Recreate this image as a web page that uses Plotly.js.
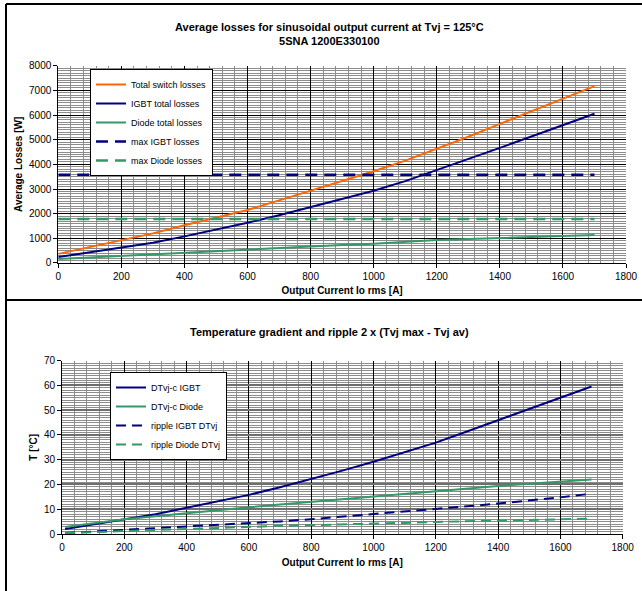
<!DOCTYPE html>
<html>
<head>
<meta charset="utf-8">
<script src="https://cdn.plot.ly/plotly-3.0.1.min.js"></script>
<style>html,body{margin:0;padding:0;background:#fff;}#chart{width:642px;height:591px;}</style>
</head>
<body>
<div id="chart"></div>
<script>
// ---- Top chart: average losses ----
const currentTop = [0,100,200,300,400,500,600,700,800,900,1000,1100,1200,1300,1400,1500,1600,1700];
const totalSwitchLosses = [370,640,905,1200,1530,1830,2150,2540,2940,3310,3720,4150,4620,5120,5640,6160,6680,7170];
const igbtTotalLosses = [240,430,600,820,1080,1340,1630,1940,2280,2600,2930,3320,3760,4220,4670,5130,5600,6050];
const diodeTotalLosses = [160,225,285,360,435,500,565,620,680,730,785,860,930,975,1015,1055,1095,1135];
const maxIgbtLosses = 3580;
const maxDiodeLosses = 1780;
const topNames = ["Total switch losses","IGBT total losses","Diode total losses","max IGBT losses","max Diode losses"];

// ---- Bottom chart: temperature gradient and ripple ----
const currentBottom = [10,100,200,300,400,500,600,700,800,900,1000,1100,1200,1300,1400,1500,1600,1700];
const dtIgbt = [2.0,3.8,5.7,8.0,10.6,13.1,15.8,18.9,22.1,25.6,29.2,32.9,36.9,41.4,46.0,50.6,55.2,59.6];
const dtDiode = [2.8,4.4,6.0,7.2,8.3,9.5,10.8,11.9,13.0,14.2,15.3,16.4,17.5,18.5,19.4,20.3,21.1,22.0];
const rippleIgbt = [0.4,1.0,1.6,2.3,2.9,3.5,4.2,5.1,6.0,7.0,8.0,9.1,10.1,11.2,12.3,13.5,14.8,16.3];
const rippleDiode = [0.4,0.8,1.2,1.7,2.2,2.6,2.9,3.3,3.6,3.8,4.0,4.5,4.9,5.2,5.4,5.7,5.9,6.2];
const bottomNames = ["DTvj-c IGBT","DTvj-c Diode","ripple IGBT DTvj","ripple Diode DTvj"];

const ORANGE = "#FF6600", NAVY = "#000080", GREEN = "#339966";
const FONT = "Liberation Sans, Arial, sans-serif";

const traces = [
  {x: currentTop, y: totalSwitchLosses, name: topNames[0], mode: "lines", line: {color: ORANGE, width: 2}, xaxis: "x", yaxis: "y", legend: "legend"},
  {x: currentTop, y: igbtTotalLosses, name: topNames[1], mode: "lines", line: {color: NAVY, width: 2}, xaxis: "x", yaxis: "y", legend: "legend"},
  {x: currentTop, y: diodeTotalLosses, name: topNames[2], mode: "lines", line: {color: GREEN, width: 2}, xaxis: "x", yaxis: "y", legend: "legend"},
  {x: currentTop, y: currentTop.map(() => maxIgbtLosses), name: topNames[3], mode: "lines", line: {color: NAVY, width: 2.5, dash: "12px,7px"}, xaxis: "x", yaxis: "y", legend: "legend"},
  {x: currentTop, y: currentTop.map(() => maxDiodeLosses), name: topNames[4], mode: "lines", line: {color: GREEN, width: 2.5, dash: "12px,7px"}, xaxis: "x", yaxis: "y", legend: "legend"},
  {x: currentBottom, y: dtIgbt, name: bottomNames[0], mode: "lines", line: {color: NAVY, width: 2}, xaxis: "x2", yaxis: "y2", legend: "legend2"},
  {x: currentBottom, y: dtDiode, name: bottomNames[1], mode: "lines", line: {color: GREEN, width: 2}, xaxis: "x2", yaxis: "y2", legend: "legend2"},
  {x: currentBottom, y: rippleIgbt, name: bottomNames[2], mode: "lines", line: {color: NAVY, width: 2, dash: "10px,6px"}, xaxis: "x2", yaxis: "y2", legend: "legend2"},
  {x: currentBottom, y: rippleDiode, name: bottomNames[3], mode: "lines", line: {color: GREEN, width: 2, dash: "10px,6px"}, xaxis: "x2", yaxis: "y2", legend: "legend2"}
];

function xAxis(domain, anchor) {
  return {
    domain: domain, anchor: anchor, range: [0, 1800], dtick: 200, tick0: 0,
    showgrid: true, gridcolor: "#000", gridwidth: 1,
    minor: {dtick: 40, showgrid: true, gridcolor: "#8c8c8c", gridwidth: 1},
    showline: true, linecolor: "#000", linewidth: 1,
    ticks: "outside", ticklen: 4, tickcolor: "#000",
    zeroline: false, fixedrange: true,
    tickfont: {family: FONT, size: 10, color: "#000"},
    title: {text: "<b>Output Current Io rms [A]</b>", font: {family: FONT, size: 10, color: "#000"}, standoff: 6}
  };
}

const layout = {
  width: 642, height: 591,
  margin: {l: 0, r: 0, t: 0, b: 0},
  paper_bgcolor: "#fff", plot_bgcolor: "#fff",
  font: {family: FONT, color: "#000"},
  showlegend: true,
  xaxis: xAxis([0.0908, 0.9751], "y"),
  yaxis: {
    domain: [0.5550, 0.8888], anchor: "x", range: [0, 8000], dtick: 1000, tick0: 0,
    showgrid: true, gridcolor: "#000", gridwidth: 1,
    minor: {dtick: 100, showgrid: true, gridcolor: "#8c8c8c", gridwidth: 1},
    showline: true, linecolor: "#000", linewidth: 1,
    ticks: "outside", ticklen: 4, tickcolor: "#000",
    zeroline: false, fixedrange: true,
    tickfont: {family: FONT, size: 10, color: "#000"},
    title: {text: "<b>Average Losses [W]</b>", font: {family: FONT, size: 10, color: "#000"}, standoff: 4}
  },
  xaxis2: xAxis([0.0966, 0.9699], "y2"),
  yaxis2: {
    domain: [0.0964, 0.3897], anchor: "x2", range: [0, 70], dtick: 10, tick0: 0,
    showgrid: true, gridcolor: "#6e6e6e", gridwidth: 2,
    minor: {dtick: 1, showgrid: true, gridcolor: "#8c8c8c", gridwidth: 1},
    showline: true, linecolor: "#000", linewidth: 1,
    ticks: "outside", ticklen: 4, tickcolor: "#000",
    zeroline: false, fixedrange: true,
    tickfont: {family: FONT, size: 10, color: "#000"},
    title: {text: "<b>T [°C]</b>", font: {family: FONT, size: 10, color: "#000"}, standoff: 4}
  },
  legend: {
    x: 90/642, y: 1 - 69/591, xanchor: "left", yanchor: "top",
    bgcolor: "#fff", bordercolor: "#000", borderwidth: 1,
    font: {family: FONT, size: 9, color: "#000"}, tracegroupgap: 0, itemwidth: 30
  },
  legend2: {
    x: 110/642, y: 1 - 372/591, xanchor: "left", yanchor: "top",
    bgcolor: "#fff", bordercolor: "#000", borderwidth: 1,
    font: {family: FONT, size: 9, color: "#000"}, tracegroupgap: 0, itemwidth: 30
  },
  annotations: [
    {xref: "paper", yref: "paper", x: 329/642, y: 1 - 33.5/591, xanchor: "center", yanchor: "middle",
     text: "<b>Average losses for sinusoidal output current at Tvj = 125°C</b><br><b>5SNA 1200E330100</b>",
     showarrow: false, font: {family: FONT, size: 11, color: "#000"}},
    {xref: "paper", yref: "paper", x: 329/642, y: 1 - 332/591, xanchor: "center", yanchor: "middle",
     text: "<b>Temperature gradient and ripple 2 x (Tvj max - Tvj av)</b>",
     showarrow: false, font: {family: FONT, size: 11, color: "#000"}}
  ],
  shapes: [
    {type: "line", xref: "paper", yref: "paper", x0: 6/642, x1: 1, y0: 1 - 4/591, y1: 1 - 4/591, line: {color: "#000", width: 2}},
    {type: "line", xref: "paper", yref: "paper", x0: 6/642, x1: 6/642, y0: 1 - 4/591, y1: 0, line: {color: "#000", width: 2}},
    {type: "line", xref: "paper", yref: "paper", x0: 6/642, x1: 1, y0: 1 - 300/591, y1: 1 - 300/591, line: {color: "#000", width: 2}}
  ]
};

Plotly.newPlot("chart", traces, layout, {staticPlot: true, displayModeBar: false});
</script>
</body>
</html>
